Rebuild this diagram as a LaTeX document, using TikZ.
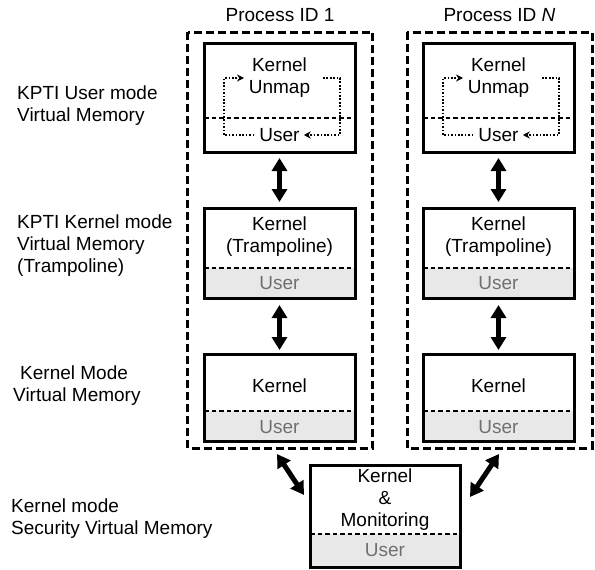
\documentclass[tikz,border=0pt]{standalone}
\usepackage{fontspec}
\setmainfont{Liberation Sans}
\usetikzlibrary{arrows.meta,calc}
\definecolor{usergray}{RGB}{232,232,232}
\definecolor{usertext}{RGB}{112,112,112}
\tikzset{
  txt/.style={font=\fontsize{19}{22}\selectfont, inner sep=0pt, align=center},
  lbl/.style={txt, align=left, anchor=west},
  usertxt/.style={txt, text=usertext},
  region/.style={rectangle, draw=none, inner sep=0pt, outer sep=0pt},
  boxline/.style={line width=3pt},
  procbox/.style={line width=3pt, dash pattern=on 8pt off 4pt},
  sep/.style={line width=1.8pt, dash pattern=on 4.5pt off 3pt},
  flow/.style={line width=1.7pt, dash pattern=on 1.7pt off 1.7pt, -{Stealth[length=7pt,width=7pt]}},
  xfer/.style={line width=5pt, {Triangle[length=13pt,width=15pt]}-{Triangle[length=13pt,width=15pt]}},
}
\begin{document}
\begin{tikzpicture}[x=1pt,y=-1pt]
\useasboundingbox (0,0) rectangle (595,570);

% row labels on the left
\node[lbl] (l1) at (17,106) {KPTI User mode\\Virtual Memory};
\node[lbl] (l2) at (17,245.5) {KPTI Kernel mode\\Virtual Memory\\(Trampoline)};
\node[lbl] (l3) at (13,386) {\hspace*{7pt}Kernel Mode\\Virtual Memory};
\node[lbl] (l4) at (11,518.5) {Kernel mode\\Security Virtual Memory};

% one column per process
\foreach \c/\cx/\px/\name in {1/279.5/280/{Process ID 1}, n/498.5/499.5/{Process ID \textit{N}}}{
  % dashed process frame
  \node[region, minimum width=185pt, minimum height=416pt] (p\c) at (\px,240) {};
  \draw[procbox] (p\c.north west) rectangle (p\c.south east);
  \node[txt] (pl\c) at (\px,15) {\name};

  % KPTI user mode memory
  \node[region, minimum width=151pt, minimum height=109pt] (u\c) at (\cx,97.5) {};
  \draw[sep] ($(u\c.south west)+(0,-34)$) -- ($(u\c.south east)+(0,-34)$);
  \draw[boxline] (u\c.north west) rectangle (u\c.south east);
  \node[txt] (uk\c) at (\cx,77.5) {Kernel\\Unmap};
  \node[txt] (uu\c) at (\cx,135) {User};
  \coordinate (fa\c) at ($(u\c.south west)+(20,-17)$);
  \coordinate (fb\c) at ($(u\c.north west)+(20,35)$);
  \coordinate (fc\c) at ($(u\c.north east)+(-15,35)$);
  \coordinate (fd\c) at ($(u\c.south east)+(-15,-17)$);
  \draw[flow] ($(uu\c.west)+(-5,0)$) -| (fa\c) -- (fb\c) -- ($(fb\c)+(20,0)$);
  \draw[flow] ($(fc\c)+(-17,0)$) -- (fc\c) -- (fd\c) -- ($(uu\c.east)+(4,0)$);

  % KPTI kernel mode memory (trampoline)
  \node[region, minimum width=151pt, minimum height=90pt] (t\c) at (\cx,253) {};
  \fill[usergray] ($(t\c.south west)+(0,-30)$) rectangle (t\c.south east);
  \draw[sep] ($(t\c.south west)+(0,-30)$) -- ($(t\c.south east)+(0,-30)$);
  \draw[boxline] (t\c.north west) rectangle (t\c.south east);
  \node[txt] (tk\c) at (\cx,236.5) {Kernel\\(Trampoline)};
  \node[usertxt] (tu\c) at (\cx,283) {User};

  % kernel mode memory
  \node[region, minimum width=151pt, minimum height=87pt] (k\c) at (\cx,397.5) {};
  \fill[usergray] ($(k\c.south west)+(0,-30)$) rectangle (k\c.south east);
  \draw[sep] ($(k\c.south west)+(0,-30)$) -- ($(k\c.south east)+(0,-30)$);
  \draw[boxline] (k\c.north west) rectangle (k\c.south east);
  \node[txt] (kk\c) at (\cx,386) {Kernel};
  \node[usertxt] (ku\c) at (\cx,427) {User};

  % switches between the address spaces
  \draw[xfer, shorten <=6pt, shorten >=6pt] (u\c.south) -- (t\c.north);
  \draw[xfer, shorten <=7pt, shorten >=4pt] (t\c.south) -- (k\c.north);
}

% security monitor memory
\node[region, minimum width=150pt, minimum height=102pt] (m) at (385,516) {};
\fill[usergray] ($(m.south west)+(0,-33)$) rectangle (m.south east);
\draw[sep] ($(m.south west)+(0,-33)$) -- ($(m.south east)+(0,-33)$);
\draw[boxline] (m.north west) rectangle (m.south east);
\node[txt] (mk) at (385,500) {Kernel\\\&\\Monitoring};
\node[usertxt] (mu) at (385,550) {User};

% switches into the security memory
\coordinate (a1) at (277,454);
\coordinate (b1) at (304,495);
\coordinate (an) at (499,454);
\coordinate (bn) at (470,497);
\draw[xfer] (a1) -- (b1);
\draw[xfer] (an) -- (bn);
\end{tikzpicture}
\end{document}
